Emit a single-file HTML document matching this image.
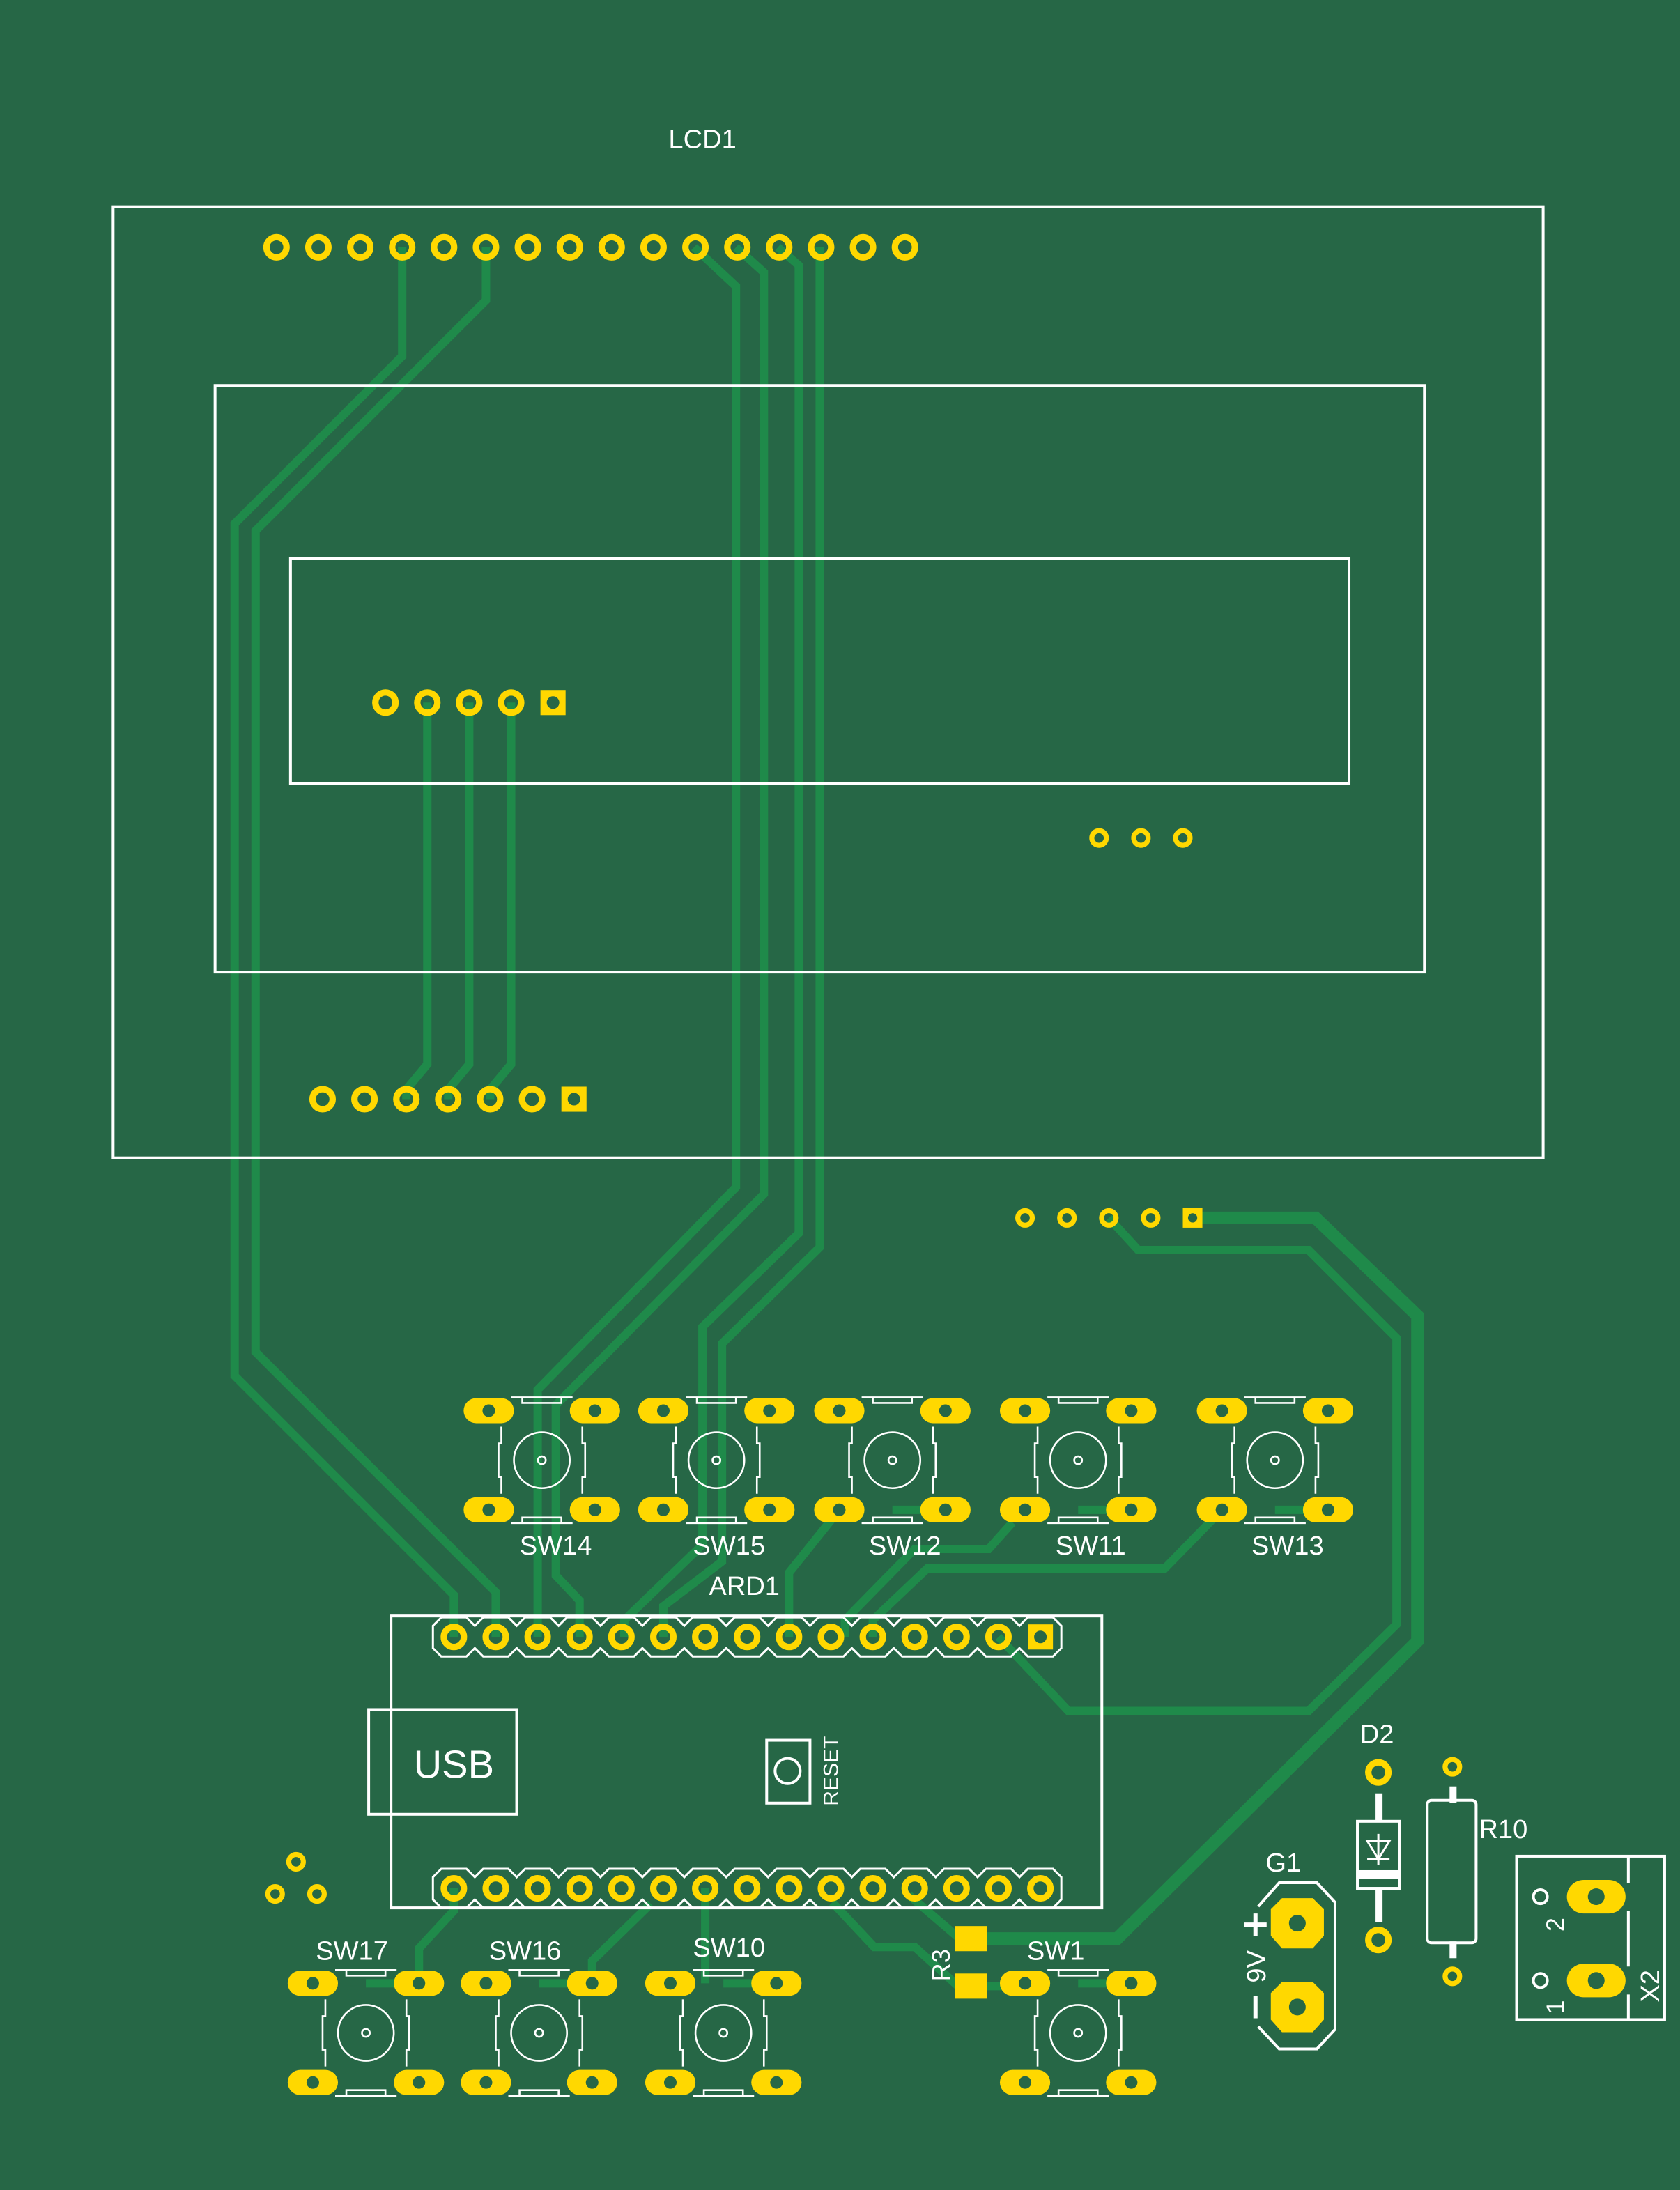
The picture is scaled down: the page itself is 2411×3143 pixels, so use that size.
<!DOCTYPE html>
<html><head><meta charset="utf-8"><style>
html,body{margin:0;padding:0;background:#266746;}
svg{display:block}
text{font-family:"Liberation Sans",sans-serif;fill:#fff}
</style></head><body>
<svg width="2411" height="3143" viewBox="0 0 1203 1568" preserveAspectRatio="none" xmlns="http://www.w3.org/2000/svg">
<defs>
<g id="sw">
 <g fill="#ffd800">
  <rect x="-56" y="-44.5" width="36" height="18" rx="9"/>
  <rect x="20" y="-44.5" width="36" height="18" rx="9"/>
  <rect x="-56" y="26.5" width="36" height="18" rx="9"/>
  <rect x="20" y="26.5" width="36" height="18" rx="9"/>
 </g>
 <g fill="#266746">
  <circle cx="-38" cy="-35.5" r="4.5"/><circle cx="38" cy="-35.5" r="4.5"/>
  <circle cx="-38" cy="35.5" r="4.5"/><circle cx="38" cy="35.5" r="4.5"/>
 </g>
 <g fill="none" stroke="#fff" stroke-width="1.3">
  <circle cx="0" cy="0" r="20"/><circle cx="0" cy="0" r="2.8"/>
  <path d="M-22 -45H22M-14 -45V-41H14V-45M-22 45H22M-14 45V41H14V45"/>
  <path d="M-29 -24V-12H-31V12H-29V24M29 -24V-12H31V12H29V24"/>
 </g>
</g>
<g id="pin"><circle r="7.2" fill="none" stroke="#ffd800" stroke-width="4.6"/></g>
<g id="spin"><circle r="5.2" fill="none" stroke="#ffd800" stroke-width="3.6"/></g>
<g id="sq"><rect x="-9" y="-9" width="18" height="18" fill="#ffd800"/><circle r="4.5" fill="#266746"/></g>
<g id="ssq"><rect x="-7" y="-7" width="14" height="14" fill="#ffd800"/><circle r="3.3" fill="#266746"/></g>
</defs>

<!-- traces -->
<g fill="none" stroke="#1f8a4a" stroke-width="6" stroke-linejoin="miter">
 <path d="M288 177V255L168 375V985L325 1142V1172"/>
 <path d="M348 177V215L183 380V968L355 1140V1172"/>
 <path d="M497 177L527 205V850L385 995V1172"/>
 <path d="M527 177L547 195V855L398 1006V1128L415 1146V1172"/>
 <path d="M557 177L572 190V883L503 950V1106L447 1160V1172"/>
 <path d="M587 177V893L517 962V1118L475 1150V1172"/>
 <path d="M306 503V762L291 780V787"/>
 <path d="M336 503V762L321 780V787"/>
 <path d="M366 503V762L351 780V787"/>
 <path d="M601 1081L565 1126V1172"/>
 <path d="M725 1090L708 1109H655L605 1160V1172"/>
 <path d="M875 1081L834 1123H664L625 1160V1172"/>
 <path d="M715 1172L765 1225H937L1000 1163V958L937 895H815L794 872"/>
 <path d="M639 1081H677M772 1081H810M913 1081H951"/>
 <path d="M262 1420H300M386 1420H424M518 1420H556M772 1420H810"/>
 <path d="M325 1352V1368L300 1395V1420"/>
 <path d="M466 1363L424 1404V1420"/>
 <path d="M505 1352V1420"/>
 <path d="M596 1362L626 1394H655L686 1422H695"/>
 <path d="M651 1357L686 1387H695"/>
 <path d="M695 1422H736"/>
 <path d="M854 872H942L1015 942V1175L800 1388H695" stroke-width="9"/>
</g>

<!-- LCD outlines -->
<g fill="none" stroke="#fff" stroke-width="2">
 <rect x="81" y="148" width="1024" height="681"/>
 <rect x="154" y="276" width="866" height="420"/>
 <rect x="208" y="400" width="758" height="161"/>
</g>
<text x="503" y="106" font-size="19" text-anchor="middle">LCD1</text>

<!-- LCD pins -->
<g>
 <use href="#pin" x="198" y="177"/><use href="#pin" x="228" y="177"/><use href="#pin" x="258" y="177"/><use href="#pin" x="288" y="177"/>
 <use href="#pin" x="318" y="177"/><use href="#pin" x="348" y="177"/><use href="#pin" x="378" y="177"/><use href="#pin" x="408" y="177"/>
 <use href="#pin" x="438" y="177"/><use href="#pin" x="468" y="177"/><use href="#pin" x="498" y="177"/><use href="#pin" x="528" y="177"/>
 <use href="#pin" x="558" y="177"/><use href="#pin" x="588" y="177"/><use href="#pin" x="618" y="177"/><use href="#pin" x="648" y="177"/>
 <use href="#pin" x="276" y="503"/><use href="#pin" x="306" y="503"/><use href="#pin" x="336" y="503"/><use href="#pin" x="366" y="503"/><use href="#sq" x="396" y="503"/>
 <use href="#spin" x="787" y="600"/><use href="#spin" x="817" y="600"/><use href="#spin" x="847" y="600"/>
 <use href="#pin" x="231" y="787"/><use href="#pin" x="261" y="787"/><use href="#pin" x="291" y="787"/><use href="#pin" x="321" y="787"/><use href="#pin" x="351" y="787"/><use href="#pin" x="381" y="787"/><use href="#sq" x="411" y="787"/>
 <use href="#spin" x="734" y="872"/><use href="#spin" x="764" y="872"/><use href="#spin" x="794" y="872"/><use href="#spin" x="824" y="872"/><use href="#ssq" x="854" y="872"/>
 <use href="#spin" x="212" y="1333"/><use href="#spin" x="197" y="1356"/><use href="#spin" x="227" y="1356"/>
</g>

<!-- switches -->
<use href="#sw" x="388" y="1045.5"/><use href="#sw" x="513" y="1045.5"/><use href="#sw" x="639" y="1045.5"/><use href="#sw" x="772" y="1045.5"/><use href="#sw" x="913" y="1045.5"/>
<use href="#sw" x="262" y="1455.5"/><use href="#sw" x="386" y="1455.5"/><use href="#sw" x="518" y="1455.5"/><use href="#sw" x="772" y="1455.5"/>
<g font-size="19" text-anchor="middle">
 <text x="398" y="1113">SW14</text><text x="522" y="1113">SW15</text><text x="648" y="1113">SW12</text><text x="781" y="1113">SW11</text><text x="922" y="1113">SW13</text>
 <text x="252" y="1403">SW17</text><text x="376" y="1403">SW16</text><text x="522" y="1401">SW10</text><text x="756" y="1403">SW1</text>
 <text x="533" y="1142">ARD1</text>
</g>

<!-- Arduino -->
<g fill="none" stroke="#fff" stroke-width="2">
 <rect x="280" y="1157" width="509" height="209"/>
 <rect x="264" y="1224" width="106" height="75"/>
 <rect x="549" y="1246" width="31" height="45"/>
 <circle cx="564" cy="1268" r="9"/>
</g>
<g fill="none" stroke="#fff" stroke-width="1.5">
 <path d="M310 1164l6 -6l18 0l6 6l6 -6l18 0l6 6l6 -6l18 0l6 6l6 -6l18 0l6 6l6 -6l18 0l6 6l6 -6l18 0l6 6l6 -6l18 0l6 6l6 -6l18 0l6 6l6 -6l18 0l6 6l6 -6l18 0l6 6l6 -6l18 0l6 6l6 -6l18 0l6 6l6 -6l18 0l6 6l6 -6l18 0l6 6l6 -6l18 0l6 6v16l-6 6l-18 0l-6 -6l-6 6l-18 0l-6 -6l-6 6l-18 0l-6 -6l-6 6l-18 0l-6 -6l-6 6l-18 0l-6 -6l-6 6l-18 0l-6 -6l-6 6l-18 0l-6 -6l-6 6l-18 0l-6 -6l-6 6l-18 0l-6 -6l-6 6l-18 0l-6 -6l-6 6l-18 0l-6 -6l-6 6l-18 0l-6 -6l-6 6l-18 0l-6 -6l-6 6l-18 0l-6 -6l-6 6l-18 0l-6 -6z"/>
 <path d="M310 1344l6 -6l18 0l6 6l6 -6l18 0l6 6l6 -6l18 0l6 6l6 -6l18 0l6 6l6 -6l18 0l6 6l6 -6l18 0l6 6l6 -6l18 0l6 6l6 -6l18 0l6 6l6 -6l18 0l6 6l6 -6l18 0l6 6l6 -6l18 0l6 6l6 -6l18 0l6 6l6 -6l18 0l6 6l6 -6l18 0l6 6l6 -6l18 0l6 6v16l-6 6l-18 0l-6 -6l-6 6l-18 0l-6 -6l-6 6l-18 0l-6 -6l-6 6l-18 0l-6 -6l-6 6l-18 0l-6 -6l-6 6l-18 0l-6 -6l-6 6l-18 0l-6 -6l-6 6l-18 0l-6 -6l-6 6l-18 0l-6 -6l-6 6l-18 0l-6 -6l-6 6l-18 0l-6 -6l-6 6l-18 0l-6 -6l-6 6l-18 0l-6 -6l-6 6l-18 0l-6 -6l-6 6l-18 0l-6 -6z"/>
</g>
<g>
 <use href="#pin" x="325" y="1172"/><use href="#pin" x="355" y="1172"/><use href="#pin" x="385" y="1172"/><use href="#pin" x="415" y="1172"/><use href="#pin" x="445" y="1172"/>
 <use href="#pin" x="475" y="1172"/><use href="#pin" x="505" y="1172"/><use href="#pin" x="535" y="1172"/><use href="#pin" x="565" y="1172"/><use href="#pin" x="595" y="1172"/>
 <use href="#pin" x="625" y="1172"/><use href="#pin" x="655" y="1172"/><use href="#pin" x="685" y="1172"/><use href="#pin" x="715" y="1172"/><use href="#sq" x="745" y="1172"/>
 <use href="#pin" x="325" y="1352"/><use href="#pin" x="355" y="1352"/><use href="#pin" x="385" y="1352"/><use href="#pin" x="415" y="1352"/><use href="#pin" x="445" y="1352"/>
 <use href="#pin" x="475" y="1352"/><use href="#pin" x="505" y="1352"/><use href="#pin" x="535" y="1352"/><use href="#pin" x="565" y="1352"/><use href="#pin" x="595" y="1352"/>
 <use href="#pin" x="625" y="1352"/><use href="#pin" x="655" y="1352"/><use href="#pin" x="685" y="1352"/><use href="#pin" x="715" y="1352"/><use href="#pin" x="745" y="1352"/>
</g>
<text x="325" y="1273" font-size="28" text-anchor="middle">USB</text>
<text transform="translate(600 1268) rotate(-90)" font-size="15" text-anchor="middle">RESET</text>

<!-- R3 -->
<rect x="684" y="1379" width="23" height="18" fill="#ffd800"/>
<rect x="684" y="1413" width="23" height="18" fill="#ffd800"/>
<text transform="translate(680 1407) rotate(-90)" font-size="18" text-anchor="middle">R3</text>

<!-- D2 -->
<text x="986" y="1248" font-size="19" text-anchor="middle">D2</text>
<use href="#pin" x="987" y="1269"/><use href="#pin" x="987" y="1389"/>
<rect x="985" y="1284" width="5" height="20" fill="#fff"/>
<rect x="985" y="1352" width="5" height="24" fill="#fff"/>
<rect x="972" y="1304" width="30" height="48" fill="none" stroke="#fff" stroke-width="2"/>
<rect x="972" y="1339" width="30" height="6" fill="#fff"/>
<path d="M987 1313V1335M979 1318H995L987 1331ZM979 1331H995" fill="none" stroke="#fff" stroke-width="1.5"/>

<!-- R10 -->
<text x="1059" y="1316" font-size="19">R10</text>
<use href="#spin" x="1040" y="1265"/><use href="#spin" x="1040" y="1415"/>
<rect x="1038" y="1279" width="5" height="12" fill="#fff"/>
<rect x="1038" y="1390" width="5" height="12" fill="#fff"/>
<rect x="1022" y="1289" width="35" height="102" rx="3" fill="none" stroke="#fff" stroke-width="2"/>

<!-- G1 -->
<text x="919" y="1340" font-size="19" text-anchor="middle">G1</text>
<path d="M901 1365L916 1348H943L956 1362V1453L943 1467H916L901 1451" fill="none" stroke="#fff" stroke-width="2"/>
<path d="M918 1359H940L948 1367V1386L940 1395H918L910 1386V1367Z M918 1419H940L948 1427V1446L940 1455H918L910 1446V1427Z" fill="#ffd800"/>
<circle cx="929" cy="1377" r="6" fill="#266746"/><circle cx="929" cy="1437" r="6" fill="#266746"/>
<path d="M891 1378H907M899 1370V1386M899 1429V1445" stroke="#fff" stroke-width="3"/>
<text transform="translate(906 1408) rotate(-90)" font-size="19" text-anchor="middle">9V</text>

<!-- X2 -->
<rect x="1086" y="1329" width="106" height="117" fill="none" stroke="#fff" stroke-width="2"/>
<path d="M1166 1329V1348M1166 1368V1408M1166 1428V1446" stroke="#fff" stroke-width="2"/>
<rect x="1122" y="1346" width="42" height="24" rx="12" fill="#ffd800"/>
<rect x="1122" y="1406" width="42" height="24" rx="12" fill="#ffd800"/>
<circle cx="1143" cy="1358" r="6" fill="#266746"/><circle cx="1143" cy="1418" r="6" fill="#266746"/>
<circle cx="1103" cy="1358" r="5" fill="none" stroke="#fff" stroke-width="2"/>
<circle cx="1103" cy="1418" r="5" fill="none" stroke="#fff" stroke-width="2"/>
<text transform="translate(1120 1378) rotate(-90)" font-size="18" text-anchor="middle">2</text>
<text transform="translate(1120 1437) rotate(-90)" font-size="18" text-anchor="middle">1</text>
<text transform="translate(1188 1422) rotate(-90)" font-size="19" text-anchor="middle">X2</text>
</svg>
</body></html>
